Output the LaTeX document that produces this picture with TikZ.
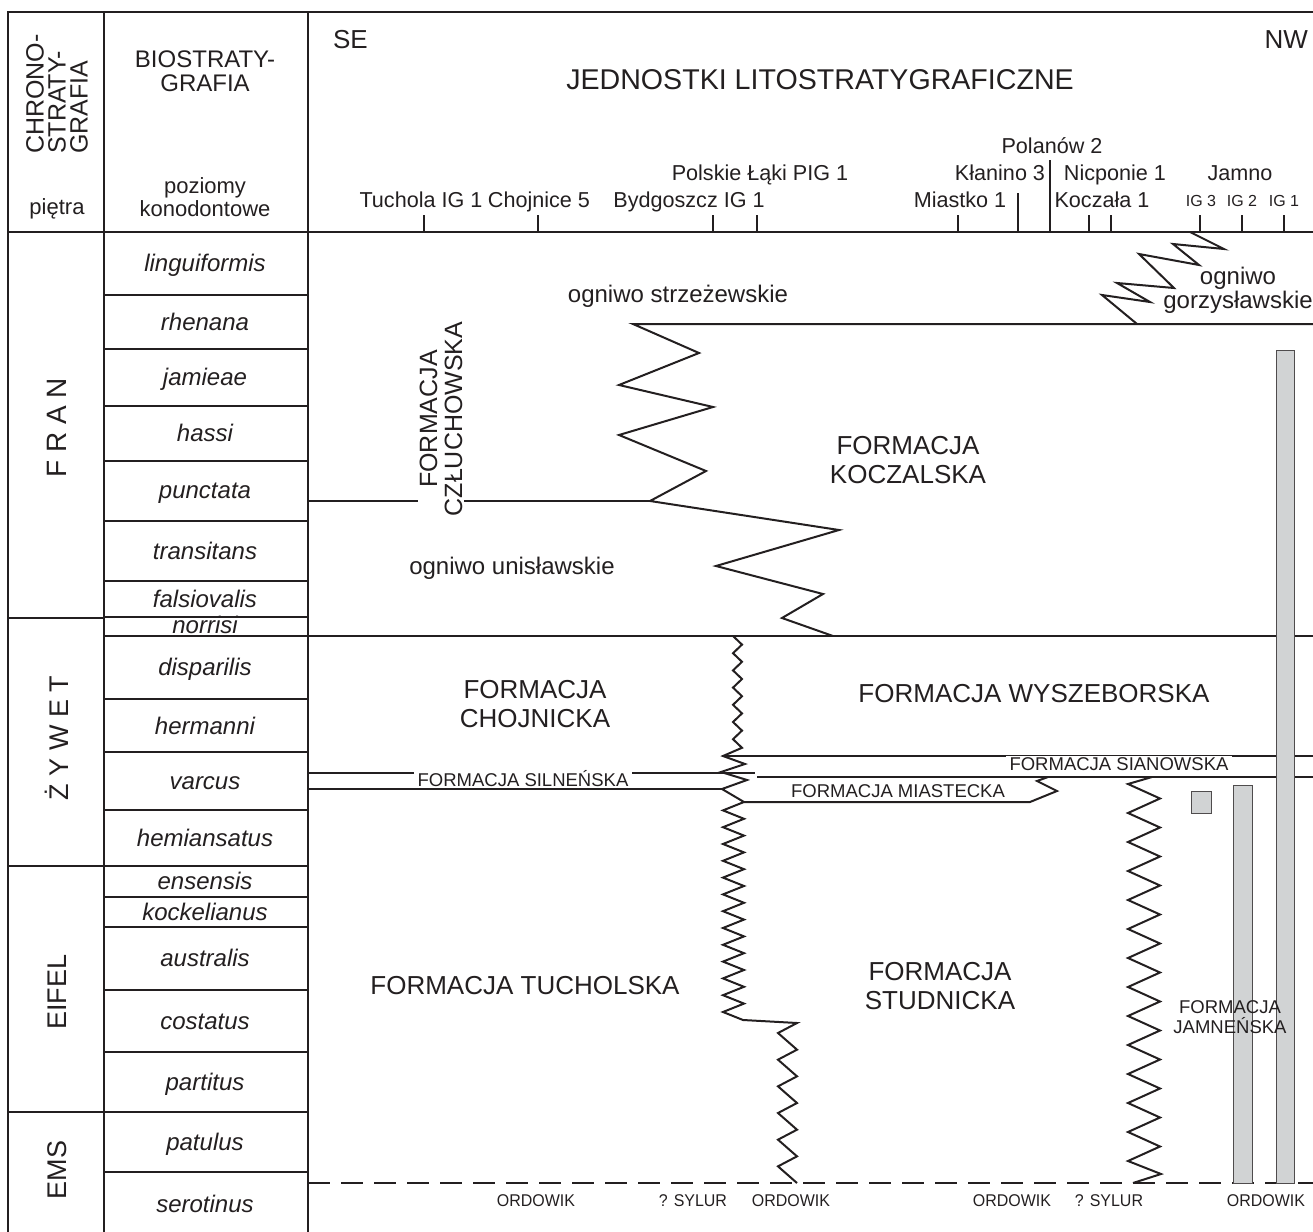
\documentclass[tikz,border=0pt]{standalone}
\usepackage{fontspec}
\setmainfont{Liberation Sans}
\usepackage{tikz}
\usetikzlibrary{positioning}
\definecolor{ink}{RGB}{35,31,32}
\definecolor{bargray}{RGB}{209,211,212}
\tikzset{
    frame line/.style={draw=ink, line width=1pt},
    zone line/.style={draw=ink, line width=0.75pt},
    bound line/.style={draw=ink, line width=1pt},
    base line/.style={draw=ink, line width=1pt, dash pattern=on 11pt off 5.5pt},
    well bar/.style={draw=ink!80, line width=0.5pt, fill=bargray},
    zone/.style={text=ink, font=\fontsize{12}{14}\selectfont\itshape, text height=1.6ex, text depth=0.3ex},
    stage/.style={text=ink, rotate=90, font=\fontsize{14}{16}\selectfont},
    header/.style={text=ink, align=center, font=\fontsize{12}{12}\selectfont},
    well/.style={text=ink, anchor=base, inner sep=0pt, font=\fontsize{10.8}{12}\selectfont},
    well small/.style={text=ink, anchor=base, inner sep=0pt, font=\fontsize{8}{9}\selectfont},
    unit/.style={text=ink, align=center, font=\fontsize{13}{14.5}\selectfont},
    member/.style={text=ink, align=center, font=\fontsize{12}{12}\selectfont},
    thin unit/.style={text=ink, align=center, font=\fontsize{9.25}{10}\selectfont},
    cut unit/.style={thin unit, fill=white, text height=6.6pt, text depth=0pt, inner xsep=2pt, inner ysep=0.5pt},
    floor/.style={text=ink, font=\fontsize{8.5}{9}\selectfont, xscale=0.94},
}

\begin{document}
\begin{tikzpicture}[x=0.5pt, y=-0.5pt]
        \useasboundingbox (0,0) rectangle (1313,1232);
        %draw frame and columns
        \draw[frame line] (8,1232) -- (8,12) -- (1313,12);
        \draw[frame line] (104,12) -- (104,1232);
        \draw[frame line] (308,12) -- (308,1232);
        \draw[frame line] (8,232) -- (1313,232);
        %stage boundaries
        \foreach \y in {618,866,1112}
            \draw[zone line] (8,\y) -- (104,\y);
        %conodont zone boundaries
        \foreach \y in {295,349,406,461,521,581,617,636,699,752,810,866,897,927,990,1052,1112,1172}
            \draw[zone line] (104,\y) -- (308,\y);
        %header texts
        \node[header, rotate=90, anchor=west, align=left, font=\fontsize{12.5}{11}\selectfont] (chrono) at (57,161) {CHRONO-\\STRATY-\\GRAFIA};
        \node[header, font=\fontsize{11}{12}\selectfont] (pietra) at (57,209) {piętra};
        \node[header] (bio) at (205,71) {BIOSTRATY-\\GRAFIA};
        \node[header, font=\fontsize{11}{11.5}\selectfont] (poziomy) at (205,197) {poziomy\\konodontowe};
        \node[header, anchor=west, font=\fontsize{13}{14}\selectfont] (se) at (326,40) {SE};
        \node[header, anchor=east, font=\fontsize{13}{14}\selectfont] (nw) at (1315,40) {NW};
        \node[header, font=\fontsize{14.3}{16}\selectfont] (jednostki) at (820,80) {JEDNOSTKI LITOSTRATYGRAFICZNE};
        %stages
        \node[stage] (fran) at (57,428) {F R A N};
        \node[stage, font=\fontsize{13.5}{15}\selectfont] (zywet) at (57,738) {Ż Y W E T};
        \node[stage, font=\fontsize{13.5}{15}\selectfont] (eifel) at (57,992) {EIFEL};
        \node[stage, font=\fontsize{13.5}{15}\selectfont] (ems) at (57,1170) {EMS};
        %conodont zones
        \foreach \name/\y [count=\i] in {linguiformis/265, rhenana/324, jamieae/379, hassi/435, punctata/492,
                transitans/553, falsiovalis/601, norrisi/627, disparilis/669, hermanni/728, varcus/783,
                hemiansatus/840, ensensis/883, kockelianus/914, australis/960, costatus/1023, partitus/1084,
                patulus/1144, serotinus/1206}
            \node[zone] (zone\i) at (205,\y) {\name};
        %boreholes
        \foreach \x/\top in {424/215, 538/215, 713/215, 757/215, 958/215, 1018/193, 1050/160,
                1089/215, 1111/215, 1200/215, 1242/215, 1284/215}
            \draw[draw=ink, line width=0.8pt] (\x,232) -- (\x,\top);
        \node[well] (tuchola) at (421,207) {Tuchola IG 1};
        \node[well] (chojnice) at (539,207) {Chojnice 5};
        \node[well] (bydgoszcz) at (689,207) {Bydgoszcz IG 1};
        \node[well] (laki) at (760,180) {Polskie Łąki PIG 1};
        \node[well] (miastko) at (960,207) {Miastko 1};
        \node[well] (klanino) at (1000,180) {Kłanino 3};
        \node[well] (polanow) at (1052,153) {Polanów 2};
        \node[well] (nicponie) at (1115,180) {Nicponie 1};
        \node[well] (koczala) at (1102,207) {Koczała 1};
        \node[well] (jamno) at (1240,180) {Jamno};
        \node[well small] (ig3) at (1201,206) {IG 3};
        \node[well small] (ig2) at (1242,206) {IG 2};
        \node[well small] (ig1) at (1284,206) {IG 1};
        %frasnian boundaries
        \draw[bound line] (1313,324) -- (633,324) -- (699,353) -- (619,385) -- (713,407) -- (619,435)
            -- (706,471) -- (650,501) -- (839,530) -- (716,566) -- (823,594) -- (782,618) -- (833,636);
        \draw[bound line] (308,501) -- (650,501);
        \draw[bound line] (1190,232) -- (1224,249) -- (1173,244) -- (1199,265) -- (1139,254) -- (1174,288)
            -- (1117,283) -- (1150,302) -- (1102,295) -- (1137,324);
        \draw[bound line] (308,636) -- (1313,636);
        %givetian boundaries
        \draw[bound line] (733,636) \foreach \i in {1,...,6} {-- ++(9,8.6) -- ++(-9,8.6)}
            -- ++(9,8.6) -- (723,756) -- (745,764) -- (721,772) -- (747,780) -- (722,789) -- (744,802)
            \foreach \i in {1,...,12} {-- ++(-21,8.4) -- ++(21,8.4)} -- ++(-21,8.4) -- (743,1020) -- (797,1023)
            \foreach \i in {1,...,6} {-- ++(-19,10) -- ++(19,16.67)};
        \draw[bound line] (308,773) -- (755,773);
        \draw[bound line] (308,789) -- (722,789);
        \draw[bound line] (723,756) -- (1313,756);
        \draw[bound line] (757,777) -- (1313,777);
        \draw[bound line] (744,802) -- (1030,802) -- (1057,791) -- (1037,781) -- (1048,777);
        \draw[bound line] (1152,777) -- (1128,784) \foreach \i in {1,...,13} {-- ++(32,14.5) -- ++(-32,14.5)}
            -- ++(33,13) -- ++(-28,9);
        %base of devonian
        \draw[base line] (308,1183) -- (1313,1183);
        %jamno boreholes
        \draw[well bar] (1276,350) rectangle (1294,1183);
        \draw[well bar] (1233,785) rectangle (1252,1183);
        \draw[well bar] (1191,791) rectangle (1211,813);
        %label units
        \node[member] (strzezewskie) at (678,296) {ogniwo strzeżewskie};
        \node[member] (gorzyslawskie) at (1238,290) {ogniwo\\gorzysławskie};
        \node[member, rotate=90, fill=white, inner sep=1pt, font=\fontsize{12.5}{12.5}\selectfont] (czluchowska) at (441,419) {FORMACJA\\CZŁUCHOWSKA};
        \node[unit] (koczalska) at (908,460) {FORMACJA\\KOCZALSKA};
        \node[member] (unislawskie) at (512,568) {ogniwo unisławskie};
        \node[unit] (chojnicka) at (535,704) {FORMACJA\\CHOJNICKA};
        \node[unit] (wyszeborska) at (1034,694) {FORMACJA WYSZEBORSKA};
        \node[cut unit] (silnenska) at (523,780) {FORMACJA SILNEŃSKA};
        \node[cut unit] (sianowska) at (1119,763.5) {FORMACJA SIANOWSKA};
        \node[thin unit] (miastecka) at (898,791) {FORMACJA MIASTECKA};
        \node[unit] (tucholska) at (525,986) {FORMACJA TUCHOLSKA};
        \node[unit] (studnicka) at (940,986) {FORMACJA\\STUDNICKA};
        \node[thin unit] (jamnenska) at (1230,1017) {FORMACJA\\JAMNEŃSKA};
        %label substrate
        \foreach \x/\t [count=\i] in {536/ORDOWIK, 693/? SYLUR, 791/ORDOWIK, 1012/ORDOWIK, 1109/? SYLUR, 1266/ORDOWIK}
            \node[floor] (floor\i) at (\x,1201) {\t};
    \end{tikzpicture}
\end{document}
